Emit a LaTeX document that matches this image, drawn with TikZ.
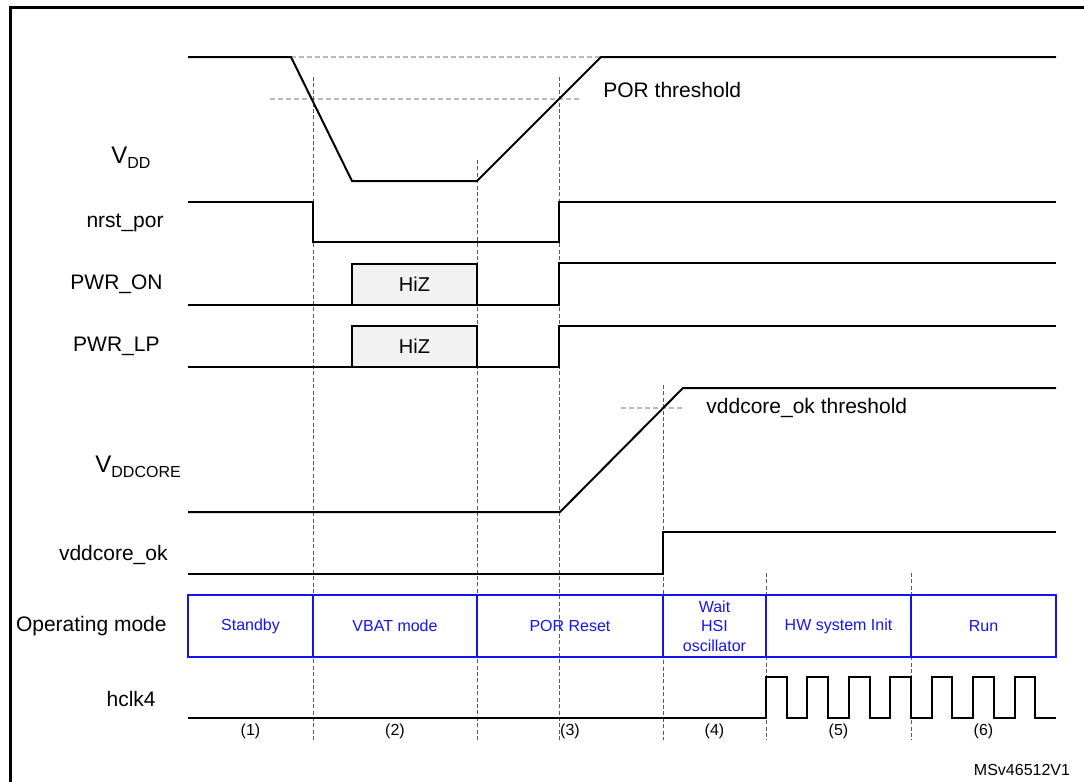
\documentclass[tikz,border=0pt]{standalone}
\usepackage{fontspec}
\setmainfont{Liberation Sans}
\definecolor{modeblue}{RGB}{20,20,235}
\definecolor{guidegray}{RGB}{90,90,90}
\definecolor{threshgray}{RGB}{185,185,185}
\newcommand{\supply}[1]{{\fontsize{12}{14}\selectfont V}\raisebox{-2.5pt}{\fontsize{8}{9}\selectfont #1}}
\tikzset{
  signal/.style={line width=1pt, line join=miter},
  guide/.style={guidegray, line width=0.5pt, dash pattern=on 2pt off 1.2pt},
  thresh/.style={threshgray, line width=0.6pt, dash pattern=on 2.5pt off 1.5pt},
  siglabel/.style={anchor=east, inner sep=0pt, font=\fontsize{10.5}{12}\selectfont},
  notelabel/.style={anchor=west, inner sep=0pt, font=\fontsize{10.5}{12}\selectfont},
  modebox/.style={draw=modeblue, text=modeblue, line width=1pt, align=center, inner sep=0pt, minimum height=31pt, font=\fontsize{8}{9.8}\selectfont},
  phase/.style={inner sep=0pt, font=\fontsize{8}{9.6}\selectfont},
  hizbox/.style={draw, fill=gray!10, line width=1pt, inner sep=0pt, minimum width=62.5pt, font=\fontsize{10}{12}\selectfont}
}
\begin{document}
\begin{tikzpicture}[x=0.5pt, y=-0.5pt]
\useasboundingbox (0,0) rectangle (1084,782);
\clip (0,0) rectangle (1084,782);
\draw[line width=1.5pt] (10,800) -- (10,7.5) -- (1100,7.5);

% thresholds and phase boundaries
\draw[thresh] (291,57) -- (601,57);
\draw[thresh] (270,99) -- (580,99);
\draw[thresh] (621,408) -- (683,408);
\foreach \x/\top in {313/77, 477/160, 559/77, 663/385, 766/573, 911/573}
  \draw[guide] (\x,\top) -- (\x,740);

% signal names
\node[anchor=base west, inner sep=0pt] (vdd) at (111,163) {\supply{DD}};
\node[siglabel] (nrst) at (164,223) {nrst\_por};
\node[siglabel] (pwron) at (163,284) {PWR\_ON};
\node[siglabel] (pwrlp) at (160,346) {PWR\_LP};
\node[anchor=base west, inner sep=0pt] (vddcore) at (95,472) {\supply{DDCORE}};
\node[siglabel] (coreok) at (168,555) {vddcore\_ok};
\node[siglabel] (opmode) at (167,626) {Operating mode};
\node[siglabel] (hclk) at (156,699) {hclk4};

% waveforms
\draw[signal] (188,57) -- (291,57) -- (352,181) -- (477,181) -- (601,57) -- (1056,57);
\node[notelabel] (porth) at (603,90) {POR threshold};
\draw[signal] (188,202) -- (313,202) -- (313,242) -- (559,242) -- (559,202) -- (1056,202);
\draw[signal] (188,305) -- (559,305) -- (559,263) -- (1056,263);
\node[hizbox, minimum height=20.5pt] (hizon) at (414.5,284.5) {HiZ};
\draw[signal] (188,367) -- (559,367) -- (559,326) -- (1056,326);
\node[hizbox, minimum height=20.5pt] (hizlp) at (414.5,346.5) {HiZ};
\draw[signal] (188,512) -- (560,512) -- (683,388) -- (1056,388);
\node[notelabel] (coreth) at (706,408) {vddcore\_ok threshold};
\draw[signal] (188,574) -- (663,574) -- (663,532) -- (1056,532);

% operating modes
\node[modebox, minimum width=62.5pt] (standby) at (250.5,626) {Standby};
\node[modebox, minimum width=82pt] (vbat) at (395,626) {VBAT mode};
\node[modebox, minimum width=93pt] (porreset) at (570,626) {POR Reset};
\node[modebox, minimum width=51.5pt] (waithsi) at (714.5,626) {Wait\\HSI\\oscillator};
\node[modebox, minimum width=72.5pt] (hwinit) at (838.5,626) {HW system Init};
\node[modebox, minimum width=72.5pt] (run) at (983.5,626) {Run};

% clock
\draw[signal] (188,718) -- (766,718) \foreach \k in {0,...,6}{ -- ++(0,-41) -- ++(20.71,0) -- ++(0,41) -- ++(20.71,0)};

\node[phase] (ph1) at (250.5,731) {(1)};
\node[phase] (ph2) at (395,731) {(2)};
\node[phase] (ph3) at (570,731) {(3)};
\node[phase] (ph4) at (714.5,731) {(4)};
\node[phase] (ph5) at (838.5,731) {(5)};
\node[phase] (ph6) at (983.5,731) {(6)};
\node[phase] (ref) at (1022,770) {MSv46512V1};
\end{tikzpicture}
\end{document}
